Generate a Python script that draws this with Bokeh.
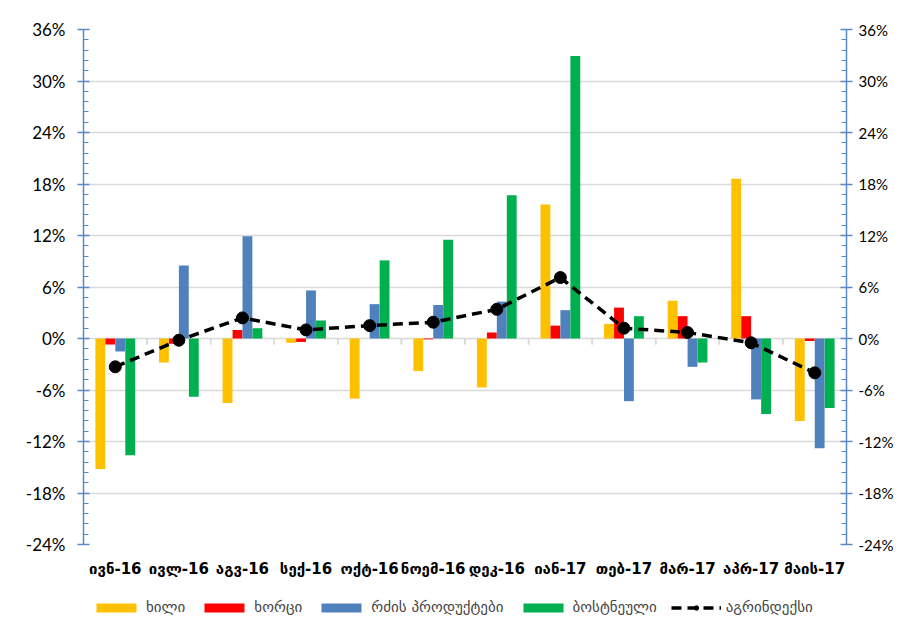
from bokeh.plotting import figure
from bokeh.layouts import column
from bokeh.models import (ColumnDataSource, FactorRange, Range1d, LinearAxis, FixedTicker,
                          PrintfTickFormatter, Legend, LegendItem)
from bokeh.transform import dodge
from bokeh.embed import file_html
from bokeh.resources import INLINE

months = ["ივნ-16", "ივლ-16", "აგვ-16", "სექ-16", "ოქტ-16", "ნოემ-16",
          "დეკ-16", "იან-17", "თებ-17", "მარ-17", "აპრ-17", "მაის-17"]
fruit = [-15.2, -2.8, -7.5, -0.5, -7.0, -3.8, -5.7, 15.6, 1.7, 4.4, 18.6, -9.6]
meat = [-0.7, -0.6, 1.0, -0.4, 0.0, -0.1, 0.7, 1.5, 3.6, 2.6, 2.6, -0.3]
dairy = [-1.5, 8.5, 11.9, 5.6, 4.0, 3.9, 4.3, 3.3, -7.3, -3.3, -7.1, -12.8]
veg = [-13.6, -6.8, 1.2, 2.1, 9.1, 11.5, 16.7, 32.9, 2.6, -2.8, -8.8, -8.1]
agri = [-3.3, -0.2, 2.4, 1.0, 1.5, 1.9, 3.4, 7.1, 1.2, 0.7, -0.5, -4.0]

series_names = ["ხილი", "ხორცი", "რძის პროდუქტები", "ბოსტნეული"]
line_name = "აგრინდექსი"
y_ticks = [-24, -18, -12, -6, 0, 6, 12, 18, 24, 30, 36]

colors = ["#FFC000", "#FF0000", "#4F81BD", "#00B050"]
axis_color = "#5A8AC6"
grid_color = "#D9D9D9"
geo_font = "DejaVu Sans"
num_font = "Lato"

src = ColumnDataSource(dict(month=months, fruit=fruit, meat=meat, dairy=dairy, veg=veg, agri=agri,
                            zero=[0] * len(months), tick=[-0.7] * len(months)))

W = 896
p = figure(width=W, height=590, output_backend="svg", toolbar_location=None,
           x_range=FactorRange(factors=months, range_padding=0),
           y_range=Range1d(y_ticks[0], y_ticks[-1]),
           min_border_left=83, min_border_right=48, min_border_top=29, min_border_bottom=46)
p.outline_line_color = None

bar_w = 0.155
offsets = [-0.235, -0.078, 0.078, 0.235]
keys = ["fruit", "meat", "dairy", "veg"]


def draw_series(fig):
    rs = []
    for k, off, c in zip(keys, offsets, colors):
        r = fig.vbar(x=dodge("month", off, range=fig.x_range), top=k, bottom=0, width=bar_w,
                     source=src, fill_color=c, line_color=None)
        rs.append(r)
    lr = fig.line(x="month", y="agri", source=src, line_color="black", line_width=3.5,
                  line_dash="10 6")
    sr = fig.scatter(x="month", y="agri", source=src, size=12, fill_color="black",
                     line_color="black", marker="circle")
    return rs, lr, sr


# category boundary ticks on the zero line
for edge in (-0.5, 0.5):
    p.segment(x0=dodge("month", edge, range=p.x_range), y0="zero",
              x1=dodge("month", edge, range=p.x_range), y1="tick",
              source=src, line_color=grid_color, line_width=1.5)

draw_series(p)

# axes
p.xgrid.grid_line_color = None
p.ygrid.ticker = FixedTicker(ticks=y_ticks)
p.ygrid.grid_line_color = grid_color
p.ygrid.grid_line_width = 1.5

xa = p.xaxis[0]
xa.axis_line_color = None
xa.major_tick_line_color = None
xa.minor_tick_line_color = None
xa.major_label_text_font = geo_font
xa.major_label_text_font_style = "bold"
xa.major_label_text_font_size = "15px"
xa.major_label_text_color = "black"
xa.major_label_standoff = 9

minor = [y_ticks[0] + i * 1.2 for i in range(int((y_ticks[-1] - y_ticks[0]) / 1.2) + 1)]
ya = p.yaxis[0]
ya.ticker = FixedTicker(ticks=y_ticks, minor_ticks=minor)
ya.formatter = PrintfTickFormatter(format="%d%%")
ya.axis_line_color = axis_color
ya.axis_line_width = 1.5
ya.major_tick_line_color = axis_color
ya.major_tick_line_width = 1.5
ya.minor_tick_line_color = axis_color
ya.major_tick_in = 6
ya.major_tick_out = 6
ya.minor_tick_in = 5
ya.minor_tick_out = 0
ya.major_label_text_font = num_font
ya.major_label_text_font_size = "17px"
ya.major_label_text_color = "black"
ya.major_label_standoff = 12

ra = LinearAxis(ticker=FixedTicker(ticks=y_ticks, minor_ticks=minor),
                formatter=PrintfTickFormatter(format="%d%%"))
ra.axis_line_color = axis_color
ra.axis_line_width = 1.5
ra.major_tick_line_color = axis_color
ra.major_tick_line_width = 1.5
ra.minor_tick_line_color = axis_color
ra.major_tick_in = 6
ra.major_tick_out = 6
ra.minor_tick_in = 5
ra.minor_tick_out = 0
ra.major_label_text_font = num_font
ra.major_label_text_font_size = "15px"
ra.major_label_text_color = "black"
ra.major_label_standoff = 6
p.add_layout(ra, "right")

# legend strip: a second figure whose ranges keep its own copies of the glyphs out of view
leg = figure(width=W, height=33, output_backend="svg", toolbar_location=None,
             x_range=FactorRange(factors=months, range_padding=0),
             y_range=Range1d(1000, 1001), x_axis_location=None, y_axis_location=None,
             min_border_left=0, min_border_right=0, min_border_top=0, min_border_bottom=0)
leg.grid.visible = False
leg.outline_line_color = None
rs, lr, sr = draw_series(leg)

items = [LegendItem(label=n, renderers=[r]) for n, r in zip(series_names, rs)]
items.append(LegendItem(label=line_name, renderers=[lr, sr]))
legend = Legend(items=items, orientation="horizontal", location=(8, 7),
                glyph_width=50, glyph_height=11, label_standoff=5, spacing=14,
                label_text_font=geo_font, label_text_font_size="15px",
                margin=0, padding=0, border_line_color=None, background_fill_alpha=0)
leg.add_layout(legend)

layout = column(p, leg, spacing=0)
open("out.html", "w").write(file_html(layout, INLINE))
